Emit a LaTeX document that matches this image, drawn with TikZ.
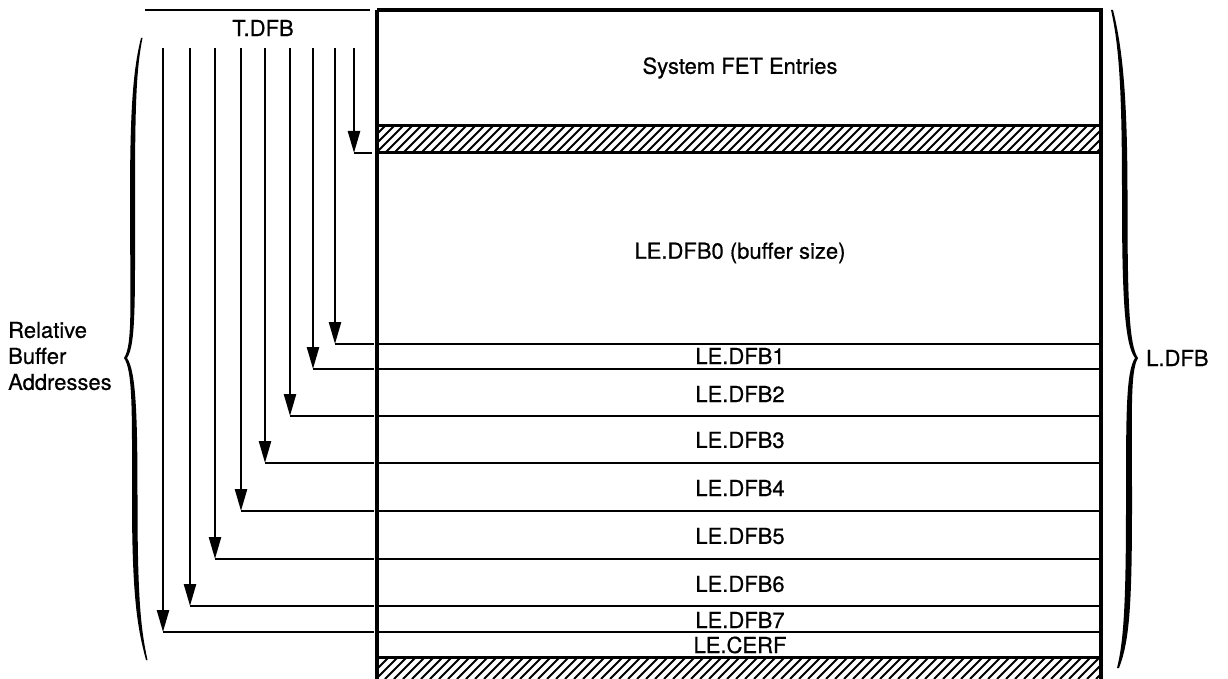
\documentclass[tikz,border=0pt]{standalone}
\usepackage{fontspec}
\setmainfont{TeX Gyre Heros}[FakeBold=0.6]
\usetikzlibrary{arrows.meta}
\begin{document}
\begin{tikzpicture}[x=1pt,y=-1pt,
  boxline/.style={line width=3.4pt},
  rowline/.style={line width=2.6pt},
  hatchline/.style={line width=2pt},
  arr/.style={line width=2.4pt,-{Triangle[width=12pt,length=22pt]}},
  lead/.style={line width=2.4pt},
  lbl/.style={font=\fontsize{22}{26}\selectfont, inner sep=0pt},
  bracefill/.style={fill=black}]
\useasboundingbox (0,0) rectangle (1228,679);

% hatched bands
\begin{scope}
  \clip (377,126) rectangle (1101,153);
  \foreach \x in {340,349,...,1120} \draw[hatchline] (\x,153) -- (\x+27,126);
\end{scope}
\begin{scope}
  \clip (377,657) rectangle (1101,679);
  \foreach \x in {340,349,...,1120} \draw[hatchline] (\x,679) -- (\x+22,657);
\end{scope}
\draw[rowline,line width=3pt] (377,126) -- (1101,126);
\draw[rowline,line width=3pt] (377,153) -- (1101,153);
\draw[rowline,line width=3pt] (377,657) -- (1101,657);

% row separators
\foreach \y in {344,369,416,463,511,559,606,632}
  \draw[rowline] (377,\y) -- (1101,\y);

% main box
\draw[boxline] (377,10) -- (1101,10) -- (1101,679);
\draw[boxline] (377,10) -- (377,679);

% top line at left
\coordinate (tl0) at (145,10);
\coordinate (tl1) at (370,10);
\draw[lead] (tl0) -- (tl1);

% texts
\node[lbl] (tdfb) at (263,28) {T.DFB};
\node[lbl] (sys) at (740,68) {System FET Entries};
\node[lbl] (le0) at (740,253) {LE.DFB0 (buffer size)};
\node[lbl] (le1) at (740,356) {LE.DFB1};
\node[lbl] (le2) at (740,394) {LE.DFB2};
\node[lbl] (le3) at (740,440) {LE.DFB3};
\node[lbl] (le4) at (740,488) {LE.DFB4};
\node[lbl] (le5) at (740,536) {LE.DFB5};
\node[lbl] (le6) at (740,584) {LE.DFB6};
\node[lbl] (le7) at (740,620) {LE.DFB7};
\node[lbl] (cerf) at (740,645) {LE.CERF};
\node[lbl,align=left,anchor=west] (rba) at (8,356) {Relative\\Buffer\\Addresses};
\node[lbl,anchor=west] (ldfb) at (1146,358) {L.DFB};

% arrows
\foreach \i/\x/\y in {1/163/632,2/190/606,3/215/559,4/241/511,5/265/463,6/290/416,7/313/369,8/335/344} {
  \coordinate (t\i) at (\x,48);
  \coordinate (e\i) at (\x,\y);
  \coordinate (b\i) at (374,\y);
  \draw[arr] (t\i) -- (e\i);
  \draw[lead] (e\i) -- (b\i);
}
\coordinate (t9) at (354,48);
\coordinate (e9) at (354,153);
\coordinate (b9) at (372,153);
\draw[arr] (t9) -- (e9);
\draw[lead] (e9) -- (b9);

% left brace
\fill[bracefill] (141,38) .. controls (133,70) and (130,110) .. (130,200)
  .. controls (130,300) and (133,345) .. (124,358)
  .. controls (133,371) and (132,415) .. (132,500)
  .. controls (132,600) and (138,630) .. (146,660)
  -- (147.5,660)
  .. controls (141,630) and (137.5,600) .. (137.5,500)
  .. controls (137.5,415) and (136,371) .. (127,358)
  .. controls (136,345) and (135,300) .. (135,200)
  .. controls (135,110) and (136,70) .. (142.5,38) -- cycle;

% right brace
\fill[bracefill] (1111,10) .. controls (1120,50) and (1122,100) .. (1122,200)
  .. controls (1122,300) and (1125,345) .. (1135,358)
  .. controls (1126,371) and (1126,415) .. (1126,500)
  .. controls (1126,600) and (1124,640) .. (1117,668)
  -- (1119,668)
  .. controls (1130,640) and (1132,600) .. (1132,500)
  .. controls (1132,415) and (1130,371) .. (1138,358)
  .. controls (1129,345) and (1127.5,300) .. (1127.5,200)
  .. controls (1127.5,100) and (1123,50) .. (1113,10) -- cycle;
\end{tikzpicture}
\end{document}
